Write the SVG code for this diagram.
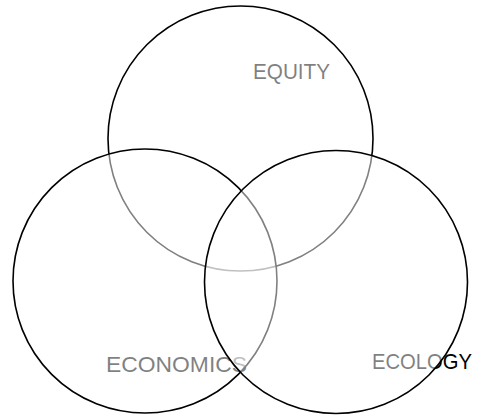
<svg xmlns="http://www.w3.org/2000/svg" width="477" height="417" viewBox="0 0 477 417">
  <style>
    .ring { fill: #ffffff; fill-opacity: 0.5; stroke: #000000; stroke-width: 1.6; }
    .lbl { font-family: "Liberation Sans", Arial, sans-serif; font-size: 22px; fill: #000000; }
  </style>
  <rect x="0" y="0" width="477" height="417" fill="#ffffff"/>
  <g id="equity">
    <text class="lbl" x="253" y="79" textLength="77" lengthAdjust="spacingAndGlyphs">EQUITY</text>
    <circle class="ring" cx="240.5" cy="138.5" r="132.5"/>
  </g>
  <g id="economics">
    <text class="lbl" x="106" y="372" textLength="141" lengthAdjust="spacingAndGlyphs">ECONOMICS</text>
    <circle class="ring" cx="145" cy="281" r="132"/>
  </g>
  <g id="ecology">
    <text class="lbl" x="372" y="369" textLength="100" lengthAdjust="spacingAndGlyphs">ECOLOGY</text>
    <circle class="ring" cx="336" cy="282" r="131.5"/>
  </g>
</svg>
